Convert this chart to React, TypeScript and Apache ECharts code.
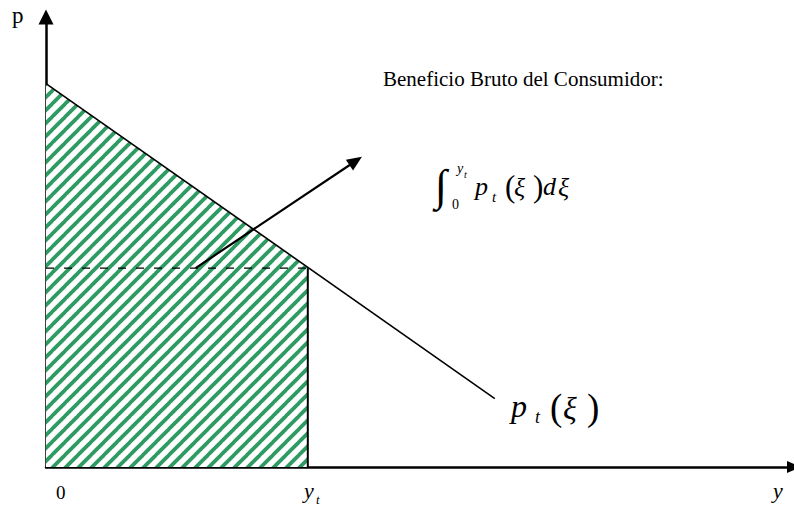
import React, { useEffect, useRef } from "react";
import * as echarts from "echarts";

// Demand curve p_t(ξ): quantity (x) vs price (y), in axis units 0..100
const demandLine: number[][] = [
  [0, 85.2],
  [60, 15.2],
];
// Shaded gross consumer benefit: demand curve between 0 and y_t
const benefitArea: number[][] = [
  [0, 85.2],
  [35, 44.2],
];
const ytValue = 35;
const ptAtYt = 44.2;
// Annotation arrow pointing to the label
const arrowFrom: number[] = [20, 44.2];
const arrowTo: number[] = [41.4, 68.0];

const titleText = "Beneficio Bruto del Consumidor:";
const axisNameP = "p";
const originLabel = "0";

const SERIF = '"Liberation Serif", "Times New Roman", serif';

function makeHatch(): HTMLCanvasElement {
  const S = 13;
  const c = document.createElement("canvas");
  c.width = S;
  c.height = S;
  const g = c.getContext("2d")!;
  g.fillStyle = "#ffffff";
  g.fillRect(0, 0, S, S);
  g.strokeStyle = "#2f9b64";
  g.lineWidth = 3.8;
  for (const off of [-S, 0, S]) {
    g.beginPath();
    g.moveTo(off - 1, S + 1);
    g.lineTo(off + S + 1, -1);
    g.stroke();
  }
  return c;
}

function txt(
  x: number,
  y: number,
  text: string,
  fs: number,
  italic: boolean
): any {
  return {
    type: "text",
    x,
    y,
    silent: true,
    style: {
      text,
      fontSize: fs,
      fontFamily: SERIF,
      fontStyle: italic ? "italic" : "normal",
      fill: "#000",
      align: "left",
      verticalAlign: "middle",
      textAlign: "left",
      textVerticalAlign: "middle",
    },
  };
}

export default function App() {
  const ref = useRef<HTMLDivElement>(null);
  useEffect(() => {
    if (!ref.current) return;
    const chart = echarts.init(ref.current, undefined, { renderer: "svg" });
    const hatch = makeHatch();
    const option: any = {
      animation: false,
      backgroundColor: "#ffffff",
      grid: { left: 46, right: -2, top: 17, bottom: 46 },
      xAxis: {
        type: "value",
        min: 0,
        max: 100,
        axisLine: {
          show: true,
          onZero: false,
          symbol: ["none", "triangle"],
          symbolSize: [12, 14],
          lineStyle: { color: "#000", width: 2.5 },
        },
        axisTick: { show: false },
        axisLabel: { show: false },
        splitLine: { show: false },
      },
      yAxis: {
        type: "value",
        min: 0,
        max: 100,
        axisLine: {
          show: true,
          onZero: false,
          symbol: ["none", "triangle"],
          symbolSize: [15, 15],
          lineStyle: { color: "#000", width: 2.5 },
        },
        axisTick: { show: false },
        axisLabel: { show: false },
        splitLine: { show: false },
      },
      series: [
        {
          type: "line",
          data: benefitArea,
          symbol: "none",
          lineStyle: { width: 0, opacity: 0 },
          areaStyle: {
            color: {
              image: hatch,
              repeat: "repeat",
              imageWidth: 13,
              imageHeight: 13,
            },
            opacity: 1,
          },
          z: 1,
        },
        {
          type: "line",
          data: [
            [0, ptAtYt],
            [ytValue, ptAtYt],
          ],
          symbol: "none",
          lineStyle: { color: "#000", width: 1.2, type: [8, 10] },
          z: 3,
        },
        {
          type: "line",
          data: [
            [ytValue, 0],
            [ytValue, ptAtYt],
          ],
          symbol: "none",
          lineStyle: { color: "#000", width: 2 },
          z: 3,
        },
        {
          type: "line",
          data: demandLine,
          symbol: "none",
          lineStyle: { color: "#000", width: 1.6 },
          z: 4,
          markLine: {
            silent: true,
            symbol: ["none", "triangle"],
            symbolSize: [13, 15],
            label: { show: false },
            lineStyle: { color: "#000", width: 2.2, type: "solid" },
            data: [[{ coord: arrowFrom }, { coord: arrowTo }]],
          },
        },
      ],
      graphic: {
        elements: [
          txt(12, 15, axisNameP, 23, false),
          txt(383, 79, titleText, 21, false),
          // integral formula
          txt(435, 185, "\u222B", 44, false),
          txt(457, 168, "y", 14, true),
          txt(464, 174, "t", 10, true),
          txt(452, 204, "0", 14, false),
          txt(475, 186, "p", 26, true),
          txt(492, 197, "t", 15, true),
          txt(505, 186.5, "(", 31, false),
          txt(514, 187, "\u03BE", 26, true),
          txt(533, 186.5, ")", 31, false),
          txt(543, 186, "d", 26, true),
          txt(558, 187, "\u03BE", 26, true),
          // demand label
          txt(511, 406, "p", 32, true),
          txt(535, 417, "t", 18, true),
          txt(550, 407, "(", 37, false),
          txt(563, 408, "\u03BE", 32, true),
          txt(587, 407, ")", 37, false),
          // axis labels
          txt(56, 492, originLabel, 19, false),
          txt(304, 490, "y", 22, true),
          txt(316, 499, "t", 13, true),
          txt(773, 490, "y", 22, true),
        ],
      },
    };
    chart.setOption(option);
    return () => chart.dispose();
  }, []);
  return (
    <div
      ref={ref}
      style={{
        position: "fixed",
        left: 0,
        top: 0,
        width: 794,
        height: 513,
        background: "#fff",
      }}
    />
  );
}
